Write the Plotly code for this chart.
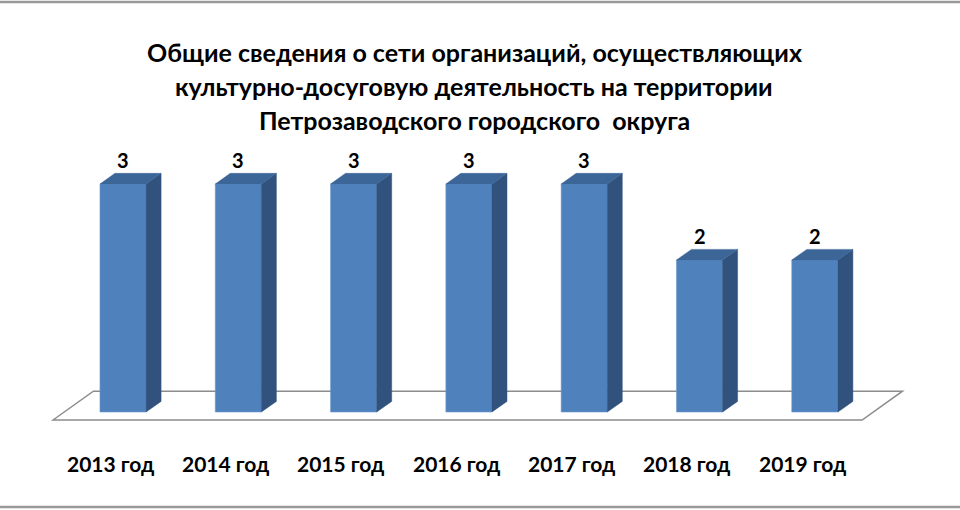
import plotly.graph_objects as go

# данные
years = ["2013 год", "2014 год", "2015 год", "2016 год", "2017 год", "2018 год", "2019 год"]
orgs = [3, 3, 3, 3, 3, 2, 2]
title_lines = [
    "Общие сведения о сети организаций, осуществляющих",
    "культурно-досуговую деятельность на территории",
    "Петрозаводского городского  округа",
]

# внешний вид "3D" столбцов
FRONT = "#4F81BD"
SIDE = "#30527D"
TOP = "#3D6698"
BAR_W = 0.4          # ширина передней грани, в ед. категории
DX, DY = 0.13, 0.14  # смещение глубины столбца
FONT = "Lato"

n = len(years)
xs = list(range(n))

fig = go.Figure()

# передние грани
fig.add_trace(go.Bar(
    x=xs, y=orgs, width=BAR_W,
    marker=dict(color=FRONT, line=dict(width=0.6, color="#6F9AD0")),
    hoverinfo="skip", showlegend=False,
))

# боковые и верхние грани
side_x, side_y, top_x, top_y = [], [], [], []
for i, v in zip(xs, orgs):
    r = i + BAR_W / 2
    l = i - BAR_W / 2
    side_x += [r, r + DX, r + DX, r, r, None]
    side_y += [0, DY, v + DY, v, 0, None]
    top_x += [l, l + DX, r + DX, r, l, None]
    top_y += [v, v + DY, v + DY, v, v, None]

fig.add_trace(go.Scatter(x=side_x, y=side_y, mode="lines", fill="toself",
                         fillcolor=SIDE, line=dict(width=0.5, color=SIDE),
                         hoverinfo="skip", showlegend=False))
fig.add_trace(go.Scatter(x=top_x, y=top_y, mode="lines", fill="toself",
                         fillcolor=TOP, line=dict(width=0.5, color=TOP),
                         hoverinfo="skip", showlegend=False))

# подписи значений
for i, v in zip(xs, orgs):
    fig.add_annotation(x=i, y=v + DY, text=f"<b>{v}</b>", showarrow=False,
                       yanchor="bottom", yshift=-1,
                       font=dict(family=FONT, size=20, color="black"))

# подписи категорий
for i, lab in zip(xs, years):
    fig.add_annotation(x=i - 0.11, y=-0.68, text=f"<b>{lab}</b>", showarrow=False,
                       font=dict(family=FONT, size=21, color="black"))

# пол диаграммы
fl, fr = -0.607, n - 1 + 0.41
fdx, fdy = 0.35, 0.38
y0 = -0.105
fig.add_shape(type="path", layer="below",
              path=f"M {fl},{y0} L {fl + fdx},{y0 + fdy} L {fr + fdx},{y0 + fdy} L {fr},{y0} Z",
              line=dict(color="#8C8C8C", width=1.5), fillcolor="white")

# заголовок
for k, line in enumerate(title_lines):
    fig.add_annotation(xref="paper", yref="paper", x=0.494, y=1 - (52 + 34 * k) / 510,
                       text=f"<b>{line}</b>", showarrow=False, yanchor="middle",
                       font=dict(family=FONT, size=25, color="black"))

# рамка сверху и снизу
for yy in (1 - 2 / 510, 3 / 510):
    fig.add_shape(type="line", xref="paper", yref="paper", x0=0, x1=1, y0=yy, y1=yy,
                  line=dict(color="#999999", width=2.5))

fig.update_xaxes(range=[-1.067, 7.259], visible=False, fixedrange=True)
fig.update_yaxes(range=[-1.289, 5.421], visible=False, fixedrange=True)
fig.update_layout(
    width=960, height=510,
    margin=dict(l=0, r=0, t=0, b=0),
    paper_bgcolor="white", plot_bgcolor="white",
    showlegend=False,
)

fig.write_html("out.html", config={"displayModeBar": False},
               post_script="document.body.style.margin='0';")
